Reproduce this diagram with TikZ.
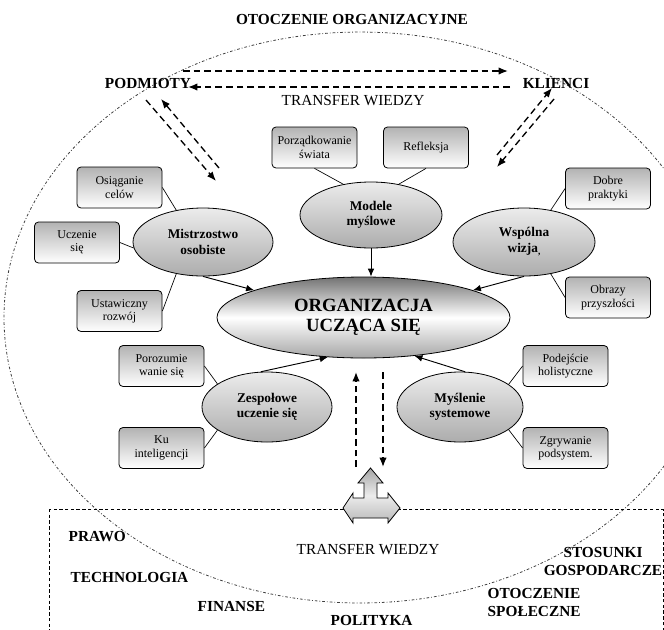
\documentclass[tikz,border=0pt]{standalone}
\usepackage{fontspec}
\setmainfont{Liberation Serif}
\usepackage{tikz}
\usetikzlibrary{arrows.meta,shapes.geometric}

\begin{document}
\begin{tikzpicture}[x=0.75pt,y=-0.75pt,
  every node/.style={font=\fontsize{11.5}{13.5}\selectfont\bfseries, align=center},
  box/.style={draw, rounded corners=3pt, line width=0.6pt, top color=gray!60, bottom color=white,
    minimum width=63.75pt, minimum height=30.75pt, inner sep=1pt, font=\fontsize{9}{10}\selectfont},
  oval/.style={draw, ellipse, line width=0.6pt, top color=gray!15, bottom color=gray!65,
    inner sep=0pt, font=\fontsize{10}{11.5}\selectfont\bfseries},
  link/.style={line width=0.5pt},
  feed/.style={line width=0.7pt, -{Latex[length=6pt,width=5pt]}},
  tarrow/.style={line width=1pt, dash pattern=on 5pt off 3pt, -{Latex[length=7pt,width=5.5pt]}},
]
\useasboundingbox (0,0) rectangle (664,629);
\fill[white] (0,0) rectangle (664,629);
\clip (0,0) rectangle (664,629);

% otoczenie
\draw[black!75, line width=0.6pt, dash pattern=on 2pt off 1.5pt on 0.6pt off 1.5pt]
  (360,317.5) ellipse [x radius=267pt, y radius=214.1pt];
\draw[line width=0.6pt, dash pattern=on 2.5pt off 1.8pt] (49,509) rectangle (663,650);

\node (otocz) at (352,19) {OTOCZENIE ORGANIZACYJNE};
\node (podm) at (148,83) {PODMIOTY};
\node (klienci) at (556,83) {KLIENCI};
\node[font=\fontsize{11.5}{13.5}\selectfont] (transfer) at (353,101) {TRANSFER WIEDZY};

% srodek
\node[oval, top color=gray!90!black, bottom color=gray!70, middle color=white,
  minimum width=219.75pt, minimum height=60.75pt, font=\fontsize{14}{15}\selectfont\bfseries]
  (org) at (363.5,317.5) {ORGANIZACJA\\UCZĄCA SIĘ};

\node[oval, minimum width=105pt, minimum height=51pt] (mistrz) at (203,242) {Mistrzostwo\\osobiste};
\node[oval, minimum width=106.5pt, minimum height=49.5pt] (modele) at (371,215) {Modele\\myślowe};
\node[oval, minimum width=106.5pt, minimum height=51pt] (wspolna) at (524,242) {Wspólna\\wizja{\scriptsize\raisebox{-2pt}{,}}};
\node[oval, minimum width=97.5pt, minimum height=52.5pt] (zespol) at (267,407) {Zespołowe\\uczenie się};
\node[oval, minimum width=94.5pt, minimum height=52.5pt] (myslenie) at (460,407) {Myślenie\\systemowe};

\node[box] (osiag) at (119.5,187.5) {Osiąganie\\celów};
\node[box] (uczenie) at (77,242.5) {Uczenie\\się};
\node[box] (ustaw) at (119.5,311) {Ustawiczny\\rozwój};
\node[box] (porz) at (314.5,147.5) {Porządkowanie\\świata};
\node[box] (refl) at (426,147.5) {Refleksja};
\node[box] (dobre) at (608,188.5) {Dobre\\praktyki};
\node[box] (obrazy) at (608,297.5) {Obrazy\\przyszłości};
\node[box] (poroz) at (161.5,366) {Porozumie\\wanie się};
\node[box] (ku) at (161.5,448) {Ku\\inteligencji};
\node[box] (podej) at (565.5,366) {Podejście\\holistyczne};
\node[box] (zgryw) at (565.5,448) {Zgrywanie\\podsystem.};

\draw[link] (osiag.east) -- (mistrz.130);
\draw[link] (uczenie.east) -- (mistrz.185);
\draw[link] (ustaw.east) -- (mistrz.230);
\draw[link] (porz.south) -- (modele.132);
\draw[link] (refl.south) -- (modele.48);
\draw[link] (dobre.west) -- (wspolna.50);
\draw[link] (obrazy.west) -- (wspolna.-50);
\draw[link] (poroz.east) -- (zespol.155);
\draw[link] (ku.east) -- (zespol.205);
\draw[link] (podej.west) -- (myslenie.25);
\draw[link] (zgryw.west) -- (myslenie.-25);

\draw[feed] (mistrz.south) -- (org.166);
\draw[feed] (modele.south) -- (modele.south |- org.north);
\draw[feed] (wspolna.south) -- (org.14);
\draw[feed] (zespol.100) -- (org.228);
\draw[feed] (myslenie.82) -- (org.-37);

% transfer wiedzy
\coordinate (h1) at (183,71);  \coordinate (h2) at (508,71);
\coordinate (h3) at (510,87);  \coordinate (h4) at (188,87);
\coordinate (p1) at (146,100); \coordinate (p2) at (216,181);
\coordinate (p3) at (219,168); \coordinate (p4) at (161,99);
\coordinate (k1) at (497,155); \coordinate (k2) at (552,88);
\coordinate (k3) at (554,99);  \coordinate (k4) at (497,167);
\coordinate (v1) at (356,467); \coordinate (v2) at (356,372);
\coordinate (v3) at (383,372); \coordinate (v4) at (383,467);
\draw[tarrow] (h1) -- (h2);
\draw[tarrow] (h3) -- (h4);
\draw[tarrow] (p1) -- (p2);
\draw[tarrow] (p3) -- (p4);
\draw[tarrow] (k1) -- (k2);
\draw[tarrow] (k3) -- (k4);
\draw[tarrow] (v1) -- (v2);
\draw[tarrow] (v3) -- (v4);

% strzalka
\draw[line width=0.6pt, top color=gray!70, bottom color=gray!55, middle color=gray!15]
  (370.5,468) -- (383,483) -- (377,483) -- (377,498) -- (388,498) -- (388,493) -- (400,508)
  -- (388,523) -- (388,518) -- (353,518) -- (353,523) -- (343,508) -- (353,493) -- (353,498)
  -- (364,498) -- (364,483) -- (358,483) -- cycle;

% otoczenie zewnetrzne
\node[anchor=west] (prawo) at (64,537) {PRAWO};
\node[font=\fontsize{11.5}{13.5}\selectfont] (transfer2) at (368,550) {TRANSFER WIEDZY};
\node[anchor=west] (techn) at (66,577) {TECHNOLOGIA};
\node[anchor=west] (finanse) at (193,606) {FINANSE};
\node[anchor=west] (polityka) at (326,620) {POLITYKA};
\node (stosunki) at (603,561) {STOSUNKI\\GOSPODARCZE};
\node[anchor=west, align=left] (spol) at (483,602) {OTOCZENIE\\SPOŁECZNE};
\end{tikzpicture}
\end{document}
